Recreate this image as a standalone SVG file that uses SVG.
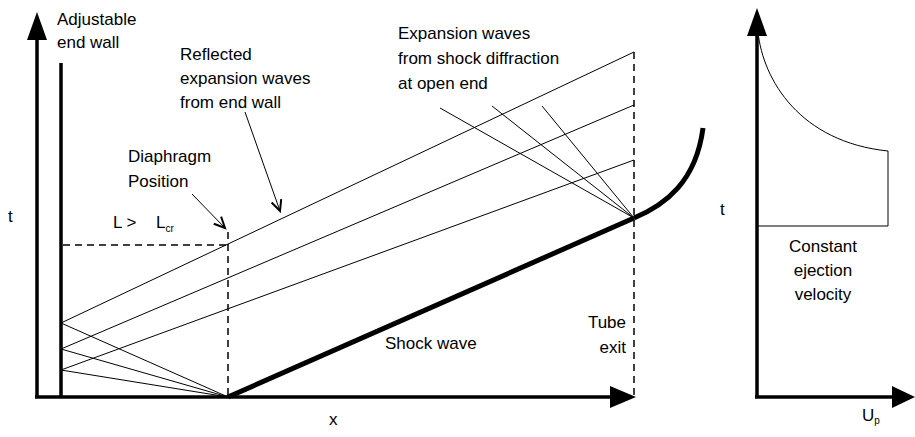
<svg xmlns="http://www.w3.org/2000/svg" width="915" height="437" viewBox="0 0 915 437">
<style>
text{font-family:"Liberation Sans",Arial,sans-serif;font-size:17px;fill:#000}
.thin{stroke:#000;stroke-width:1;fill:none}
.axis{stroke:#000;stroke-width:3.5;fill:none}
.dash{stroke:#000;stroke-width:1.5;stroke-dasharray:7,5;fill:none}
.head{stroke:#000;stroke-width:2;fill:none}
.sub{font-size:10px}
</style>
<rect width="915" height="437" fill="#fff"/>
<g id="xt-axes">
<line class="axis" x1="37" y1="398" x2="37" y2="36"/>
<polygon points="37,12 27,40 47,40"/>
<line class="axis" x1="35" y1="397" x2="614" y2="397"/>
<polygon points="636,397 610,386 610,408"/>
<text x="329" y="425">x</text>
<text x="8" y="222">t</text>
</g>
<g id="end-wall">
<line class="axis" x1="61" y1="63" x2="61" y2="397"/>
<text x="57" y="25">Adjustable</text>
<text x="57" y="48">end wall</text>
</g>
<g id="diaphragm">
<line class="dash" x1="228" y1="232" x2="228" y2="397"/>
<line class="dash" x1="63" y1="245" x2="228" y2="245"/>
<text x="128" y="162">Diaphragm</text>
<text x="128" y="187">Position</text>
<text x="113" y="228">L &gt; <tspan x="156">L</tspan><tspan class="sub" dy="4">cr</tspan></text>
</g>
<g id="tube-exit">
<line class="dash" x1="634" y1="52" x2="634" y2="397"/>
<text x="626" y="328" text-anchor="end">Tube</text>
<text x="626" y="353" text-anchor="end">exit</text>
</g>
<g id="shock-wave">
<line x1="228" y1="397" x2="634" y2="218" stroke="#000" stroke-width="5"/>
<path d="M634,218 C665,205 696,182 703,128" stroke="#000" stroke-width="5" fill="none"/>
<text x="385" y="349">Shock wave</text>
</g>
<g id="reflected-waves">
<line class="thin" x1="228" y1="397" x2="61" y2="323"/>
<line class="thin" x1="228" y1="397" x2="61" y2="349"/>
<line class="thin" x1="228" y1="397" x2="61" y2="370"/>
<line class="thin" x1="61" y1="323" x2="634" y2="52"/>
<line class="thin" x1="61" y1="349" x2="634" y2="105"/>
<line class="thin" x1="61" y1="370" x2="634" y2="160"/>
<text x="180" y="60">Reflected</text>
<text x="180" y="84">expansion waves</text>
<text x="180" y="108">from end wall</text>
</g>
<g id="diffraction-waves">
<line class="thin" x1="634" y1="218" x2="440" y2="108"/>
<line class="thin" x1="634" y1="218" x2="492" y2="106"/>
<line class="thin" x1="634" y1="218" x2="542" y2="106"/>
<text x="398" y="39">Expansion waves</text>
<text x="398" y="64">from shock diffraction</text>
<text x="398" y="89">at open end</text>
</g>
<g id="connectors">
<line class="thin" x1="245" y1="112" x2="280" y2="211"/>
<polyline class="head" points="281.2,199.1 280,211 271.6,202.5"/>
<line class="thin" x1="192" y1="194" x2="225" y2="228"/>
<polyline class="head" points="221.1,216.7 225,228 213.8,223.7"/>
</g>
<g id="velocity-chart">
<line class="axis" x1="757" y1="398" x2="757" y2="34"/>
<polygon points="757,8 747,36 767,36"/>
<line class="axis" x1="755" y1="397" x2="895" y2="397"/>
<polygon points="915,397 892,386 892,408"/>
<path class="thin" d="M758,32 C763,80 800,142 888,151 L888,226 L757,226"/>
<text x="720" y="215">t</text>
<text x="823" y="252" text-anchor="middle">Constant</text>
<text x="823" y="276" text-anchor="middle">ejection</text>
<text x="823" y="300" text-anchor="middle">velocity</text>
<text x="862" y="421">U<tspan class="sub" dy="3">p</tspan></text>
</g>
</svg>
